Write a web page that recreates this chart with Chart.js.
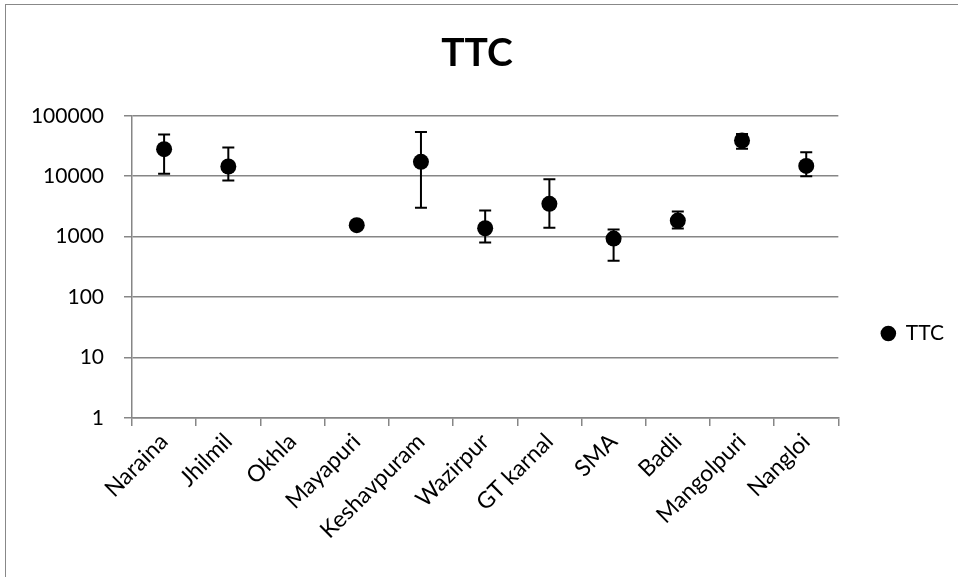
<!DOCTYPE html>
<html>
<head>
<meta charset="utf-8">
<script src="https://cdn.jsdelivr.net/npm/chart.js@4.4.1/dist/chart.umd.min.js"></script>
<style>
    html, body { margin: 0; padding: 0; background: #fff; }
    #wrap { position: relative; width: 958px; height: 577px; }
    #frame { position: absolute; left: 5px; top: 4px; width: 960px; height: 600px; border: 1px solid #888; box-sizing: border-box; pointer-events: none; }
    canvas { position: absolute; left: 0; top: 0; }
</style>
</head>
<body>
<div id="wrap">
    <canvas id="chart" width="958" height="577"></canvas>
    <div id="frame"></div>
</div>
<script>
const sites = ['Naraina', 'Jhilmil', 'Okhla', 'Mayapuri', 'Keshavpuram', 'Wazirpur', 'GT karnal', 'SMA', 'Badli', 'Mangolpuri', 'Nangloi'];
const ttc = [28000, 14500, null, 1550, 17300, 1380, 3500, 930, 1850, 39000, 14800];
const ttcHigh = [49000, 30000, null, null, 54000, 2700, 8900, 1310, 2600, 50000, 25000];
const ttcLow = [11000, 8500, null, null, 3000, 800, 1400, 400, 1370, 28500, 10000];
const yTicks = [1, 10, 100, 1000, 10000, 100000];

const font = 'Lato, "Open Sans", sans-serif';

// whiskers drawn under the points, positioned by the chart's own scales
const errorBars = {
    id: 'errorBars',
    beforeDatasetsDraw(chart) {
        const {ctx, scales: {x, y}} = chart;
        ctx.save();
        ctx.strokeStyle = '#000';
        ctx.lineWidth = 2;
        sites.forEach((s, i) => {
            if (ttcHigh[i] == null || ttcLow[i] == null) return;
            const px = x.getPixelForValue(i);
            const top = y.getPixelForValue(ttcHigh[i]);
            const bot = y.getPixelForValue(ttcLow[i]);
            ctx.beginPath();
            ctx.moveTo(px, top);
            ctx.lineTo(px, bot);
            ctx.moveTo(px - 6, top);
            ctx.lineTo(px + 6, top);
            ctx.moveTo(px - 6, bot);
            ctx.lineTo(px + 6, bot);
            ctx.stroke();
        });
        ctx.restore();
    }
};

new Chart(document.getElementById('chart'), {
    type: 'line',
    data: {
        labels: sites,
        datasets: [
            {
                label: 'TTC',
                data: ttc,
                showLine: false,
                pointRadius: 8,
                pointHoverRadius: 8,
                pointBackgroundColor: '#000',
                pointBorderColor: '#000',
                pointBorderWidth: 0,
                backgroundColor: '#000',
                borderColor: '#000',
            },
        ],
    },
    options: {
        responsive: false,
        animation: false,
        layout: {
            padding: {left: 0, right: 4, top: 0, bottom: 0},
        },
        scales: {
            y: {
                type: 'logarithmic',
                min: 1,
                max: 100000,
                afterBuildTicks: (axis) => {
                    axis.ticks = yTicks.map(v => ({value: v}));
                },
                afterFit: (scale) => {
                    scale.width = 132;
                },
                border: {
                    color: '#868686',
                    width: 1.5,
                },
                grid: {
                    color: '#868686',
                    lineWidth: 1.5,
                    tickLength: 8,
                },
                ticks: {
                    color: '#000',
                    padding: 20,
                    font: {family: font, size: 21},
                    callback: (value) => String(value),
                },
            },
            x: {
                offset: true,
                afterFit: (scale) => {
                    scale.height = 159;
                },
                border: {
                    color: '#868686',
                    width: 1.5,
                },
                grid: {
                    offset: true,
                    drawOnChartArea: false,
                    color: '#868686',
                    lineWidth: 1.5,
                    tickLength: 8,
                },
                ticks: {
                    color: '#000',
                    maxRotation: 45,
                    minRotation: 45,
                    autoSkip: false,
                    padding: 2,
                    font: {family: font, size: 23},
                },
            },
        },
        plugins: {
            title: {
                display: true,
                text: 'TTC',
                color: '#000',
                font: {family: font, size: 39, weight: 'bold'},
                padding: {top: 30, bottom: 39},
            },
            legend: {
                position: 'right',
                title: {
                    display: true,
                    text: '',
                    font: {size: 10, lineHeight: 1},
                    padding: {top: 80, bottom: 0},
                },
                labels: {
                    usePointStyle: true,
                    pointStyle: 'circle',
                    boxWidth: 14,
                    boxHeight: 11,
                    color: '#000',
                    padding: 43,
                    font: {family: font, size: 21},
                },
            },
            tooltip: {enabled: false},
        },
    },
    plugins: [errorBars],
});
</script>
</body>
</html>
